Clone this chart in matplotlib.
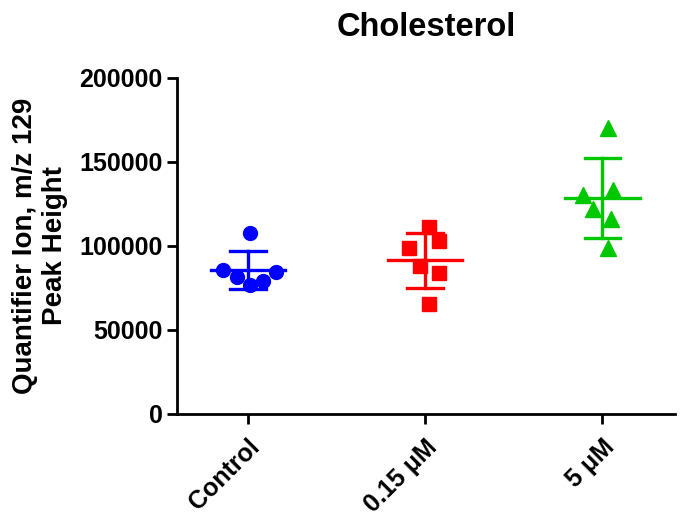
import numpy as np
import matplotlib
matplotlib.use("Agg")
import matplotlib.pyplot as plt

plt.rcParams['font.family'] = ['Liberation Sans', 'DejaVu Sans']
plt.rcParams['font.weight'] = 'bold'

# values (peak height)
groups = ['Control', '0.15 μM', '5 μM']
control = [107500, 85400, 81200, 77000, 78800, 84200]
low_dose = [111000, 102700, 98500, 87800, 83600, 65100]
high_dose = [170000, 130000, 133000, 122000, 116000, 99000]
# horizontal scatter of the points inside each column
spread_control = [0.01, -0.14, -0.06, 0.01, 0.085, 0.16]
spread_low = [0.02, 0.08, -0.09, -0.03, 0.08, 0.02]
spread_high = [0.03, -0.11, 0.06, -0.05, 0.05, 0.03]

colors = ['#0000FF', '#FF0000', '#00C800']
markers = ['o', 's', '^']

fig = plt.figure(figsize=(6.93, 5.16), dpi=100)
ax = fig.add_axes([0.2554, 0.198, 0.7186, 0.651])

data = [control, low_dose, high_dose]
spreads = [spread_control, spread_low, spread_high]
for i, (vals, sp) in enumerate(zip(data, spreads)):
    vals = np.array(vals, dtype=float)
    xs = i + np.array(sp)
    ax.plot(xs, vals, linestyle='none', marker=markers[i], color=colors[i],
            markersize=10 if i != 2 else 11, zorder=3)
    m = vals.mean()
    sd = vals.std(ddof=1)
    ax.plot([i - 0.21, i + 0.21], [m, m], color=colors[i], lw=2.4, zorder=4)
    ax.plot([i, i], [m - sd, m + sd], color=colors[i], lw=2.4, zorder=4)
    for y in (m - sd, m + sd):
        ax.plot([i - 0.1, i + 0.1], [y, y], color=colors[i], lw=2.4, zorder=4)

ax.set_xlim(-0.4, 2.41)
ax.set_ylim(0, 200000)
ax.set_yticks([0, 50000, 100000, 150000, 200000])
ax.set_xticks(range(len(groups)))
ax.set_xticklabels(groups, rotation=45, ha='right', rotation_mode='anchor')
ax.tick_params(axis='both', labelsize=18, width=2, length=7)
ax.tick_params(axis='x', pad=8)
for s in ['top', 'right']:
    ax.spines[s].set_visible(False)
for s in ['left', 'bottom']:
    ax.spines[s].set_linewidth(2)

ax.set_ylabel('Quantifier Ion, m/z 129\nPeak Height', fontsize=20,
              fontweight='bold', labelpad=8, linespacing=1.2)
ax.set_title('Cholesterol', fontsize=23.5, fontweight='bold', pad=30)

fig.savefig('out.png', dpi=100)
